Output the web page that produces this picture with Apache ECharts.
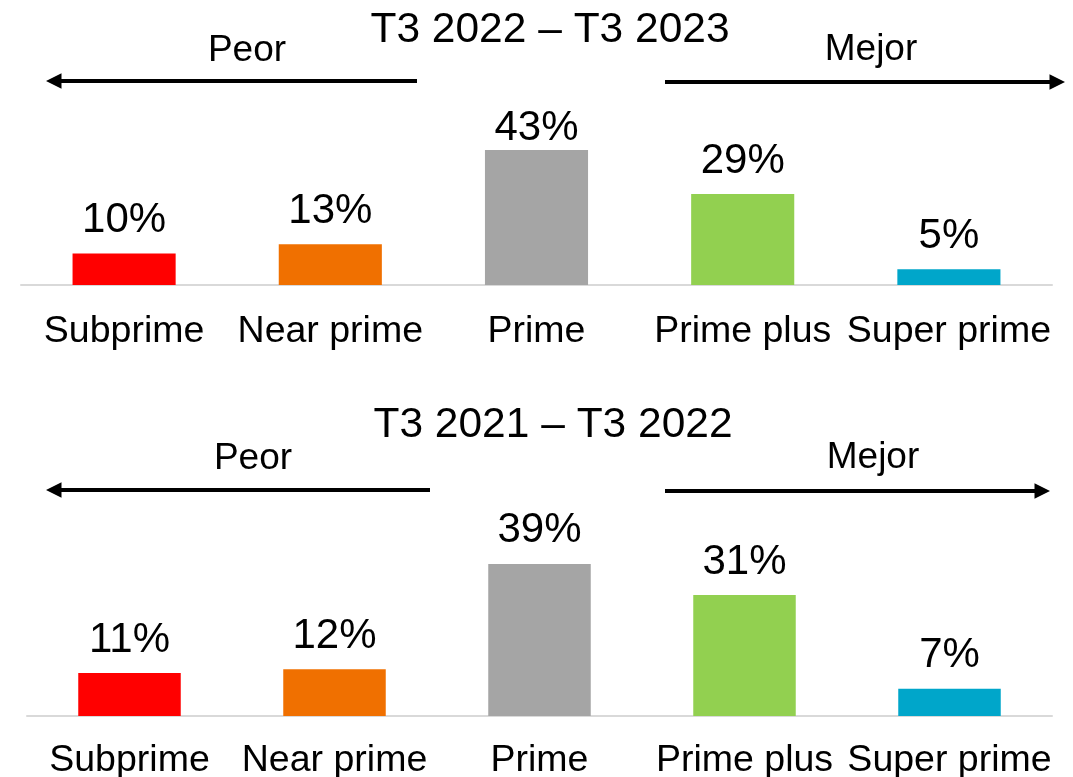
<!DOCTYPE html>
<html>
<head>
<meta charset="utf-8">
<title>Subprime - Super prime</title>
<script src="https://cdn.jsdelivr.net/npm/echarts@6/dist/echarts.min.js"></script>
<style>
  html, body { margin: 0; padding: 0; background: #fff; }
  #chart { width: 1073px; height: 777px; }
</style>
</head>
<body>
<div id="chart"></div>
<script>
// datos
const categories = ['Subprime', 'Near prime', 'Prime', 'Prime plus', 'Super prime'];
const values2023 = [10, 13, 43, 29, 5];   // T3 2022 – T3 2023
const values2022 = [11, 12, 39, 31, 7];   // T3 2021 – T3 2022
const titles = ['T3 2022 – T3 2023', 'T3 2021 – T3 2022'];

const barColors = ['#FF0000', '#F07000', '#A5A5A5', '#92D050', '#00A6CA'];
const FONT = '"Liberation Sans", Arial, sans-serif';

function buildData(values, closeIdx) {
  return values.map(function (v, i) {
    const item = { value: v, itemStyle: { color: barColors[i] } };
    // la etiqueta del 43% esta mas pegada a la barra en el original
    if (i === closeIdx) item.label = { distance: 1 };
    return item;
  });
}

function arrow(x1, x2, y) {
  // x2 es la punta
  const dir = x2 > x1 ? 1 : -1;
  const head = 15.5;
  return {
    type: 'group',
    children: [
      { type: 'line', shape: { x1: x1, y1: y, x2: x2 - dir * head + dir * 2, y2: y },
        style: { stroke: '#000', lineWidth: 4 } },
      { type: 'polygon', shape: { points: [[x2, y], [x2 - dir * head, y - 7.75], [x2 - dir * head, y + 7.75]] },
        style: { fill: '#000' } }
    ]
  };
}

function label(text, x, y) {
  return {
    type: 'text', x: x, y: y,
    style: { text: text, font: '37px ' + FONT, fill: '#000', align: 'center', verticalAlign: 'middle' }
  };
}

var chartDom = document.getElementById('chart');
var myChart = echarts.init(chartDom);
var option;

option = {
  backgroundColor: '#fff',
  animation: false,
  title: [
    { text: titles[0], left: 550, top: 9, textAlign: 'center', padding: 0,
      textStyle: { fontFamily: FONT, fontSize: 42.5, fontWeight: 'normal', color: '#000' } },
    { text: titles[1], left: 553, top: 404, textAlign: 'center', padding: 0,
      textStyle: { fontFamily: FONT, fontSize: 42.5, fontWeight: 'normal', color: '#000' } }
  ],
  grid: [
    { left: 21, right: 21, top: 128, height: 157, outerBoundsMode: 'none' },
    { left: 27, right: 21, top: 521, height: 195, outerBoundsMode: 'none' }
  ],
  xAxis: [0, 1].map(function (g) {
    return {
      type: 'category',
      gridIndex: g,
      data: categories,
      axisTick: { show: false },
      axisLine: { lineStyle: { color: '#D9D9D9', width: 2 } },
      axisLabel: { color: '#000', fontFamily: FONT, fontSize: 37.5, margin: g === 0 ? 28 : 26, interval: 0 }
    };
  }),
  yAxis: [0, 1].map(function (g) {
    return { type: 'value', gridIndex: g, min: 0, max: 50, show: false, splitLine: { show: false } };
  }),
  series: [
    { type: 'bar', xAxisIndex: 0, yAxisIndex: 0, barWidth: '50%',
      data: buildData(values2023, 2),
      label: { show: true, position: 'top', distance: 12, formatter: '{c}%',
               color: '#000', fontFamily: FONT, fontSize: 42 } },
    { type: 'bar', xAxisIndex: 1, yAxisIndex: 1, barWidth: '50%',
      data: buildData(values2022, -1),
      label: { show: true, position: 'top', distance: 12, formatter: '{c}%',
               color: '#000', fontFamily: FONT, fontSize: 42 } }
  ],
  graphic: [
    label('Peor', 247, 51),
    label('Mejor', 871, 50),
    arrow(417, 46, 81),
    arrow(665, 1065, 82),
    label('Peor', 253, 459),
    label('Mejor', 873, 458),
    arrow(430, 46, 490),
    arrow(665, 1050, 491)
  ]
};

option && myChart.setOption(option);
</script>
</body>
</html>
